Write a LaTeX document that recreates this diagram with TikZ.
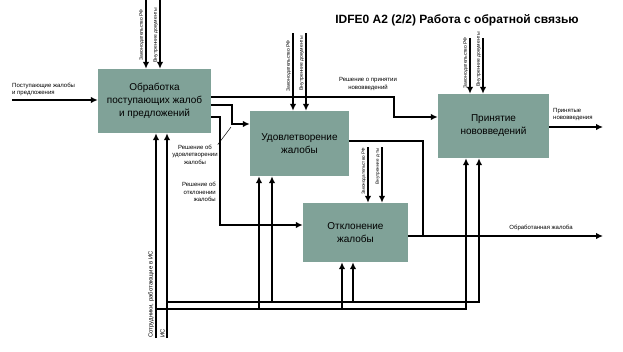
\documentclass[tikz,border=0pt]{standalone}
\usepackage{fontspec}
\setmainfont{Liberation Sans}
\usetikzlibrary{positioning, arrows.meta, calc}
\definecolor{boxgreen}{RGB}{128,162,152}
\tikzset{
  funcbox/.style={rectangle, fill=boxgreen, align=center, inner sep=2pt, font=\fontsize{10}{13}\selectfont},
  arr/.style={line width=1.5pt, -{Latex[length=7pt,width=6.5pt]}},
  flow/.style={line width=1.5pt},
  lbl/.style={inner sep=0pt, align=center, font=\fontsize{6}{7.5}\selectfont},
  ctrllbl/.style={inner sep=0pt, rotate=90, anchor=south east, font=\fontsize{5}{6}\selectfont},
  leader/.style={line width=0.5pt}
}

\begin{document}
\begin{tikzpicture}[x=1pt, y=-1pt]
        \useasboundingbox (0,0) rectangle (623,351);

        % Заголовок
        \node (zagolovok) [font=\bfseries\fontsize{12}{14}\selectfont] at (457,20) {IDFE0 A2 (2/2) Работа с обратной связью};

        % Функциональные блоки
        \node (obr) [funcbox, minimum width=113pt, minimum height=64pt] at (154.5,101) {Обработка\\поступающих жалоб\\и предложений};
        \node (udv) [funcbox, minimum width=99pt, minimum height=65pt] at (299.5,143.5) {Удовлетворение\\жалобы};
        \node (otk) [funcbox, minimum width=105pt, minimum height=59pt] at (355.5,232.5) {Отклонение\\жалобы};
        \node (prn) [funcbox, minimum width=111pt, minimum height=64pt] at (493.5,126) {Принятие\\нововведений};

        % Вход
        \coordinate (vhod) at (12,100);
        \draw [arr] (vhod) -- (vhod -| obr.west);
        \node (vhodlbl) [lbl, align=left, anchor=south west] at (12,96) {Поступающие жалобы\\и предложения};

        % Управление
        \foreach \x/\y/\bx in {146/0/obr, 160/0/obr, 293/33/udv, 306/33/udv, 368/147/otk, 382/147/otk, 470/38/prn, 483/38/prn}
            \draw [arr] (\x,\y) -- (\x,\y |- \bx.north);
        \foreach \x/\y/\t in {146/9/Законодательство РФ, 160/8/Внутренние документы, 293/40/Законодательство РФ, 306/36/Внутренние документы, 470/37/Законодательство РФ, 483/32/Внутренние документы}
            \node [ctrllbl] at (\x-2,\y) {\t};
        \node (zak3) [ctrllbl, font=\fontsize{4.6}{5}\selectfont] at (366,148) {Законодательство РФ};
        \node (vnu3) [ctrllbl, font=\fontsize{4.6}{5}\selectfont] at (380,148) {Внутренние д-ты};

        % Выходы блока обработки
        \draw [arr] ([yshift=4pt]obr.east) -- ++(183,0) |- ([yshift=9pt]prn.west);
        \node (reshprn) [lbl] at (368,84) {Решение о принятии\\нововведений};
        \draw [arr] ([yshift=-4pt]obr.east) -- ++(21,0) |- ([yshift=19.5pt]udv.west);
        \node (reshudv) [lbl] at (195,154.5) {Решение об\\удовлетворении\\жалобы};
        \coordinate (vynoska) at (231,127);
        \draw [leader] (reshudv.north east) -- (vynoska);
        \draw [arr] ([yshift=-16pt]obr.east) -- ++(9,0) |- ([yshift=7.5pt]otk.west);
        \node (reshotk) [lbl, align=right, anchor=east] at (216,192) {Решение об\\отклонении\\жалобы};

        % Механизмы
        \coordinate (sotr) at (156,338);
        \coordinate (is) at (167,338);
        \draw [arr] (sotr) -- (sotr |- obr.south);
        \draw [arr] (is) -- (is |- obr.south);
        \draw [arr] (156,309) -| (466,0 |- prn.south);
        \draw [arr] (167,302) -| (479,0 |- prn.south);
        \foreach \xa/\xb/\bx in {259/272/udv, 342/353/otk} {
            \draw [arr] (\xa,309) -- (\xa,0 |- \bx.south);
            \draw [arr] (\xb,302) -- (\xb,0 |- \bx.south);
        }
        \node (sotrlbl) [inner sep=0pt, rotate=90, anchor=south west, font=\fontsize{6}{7}\selectfont] at (154,338) {Сотрудники, работающие в ИС};
        \node (islbl) [inner sep=0pt, rotate=90, anchor=south west, font=\fontsize{6}{7}\selectfont] at (165,338) {ИС};

        % Выходы
        \coordinate (vyhod) at (603,236);
        \coordinate (sliyanie) at (423,236);
        \draw [arr] ([yshift=-3.5pt]otk.east) -- (vyhod);
        \draw [flow] ([yshift=2.5pt]udv.east) -| (sliyanie);
        \node (obrlbl) [lbl] at (541,228) {Обработанная жалоба};
        \coordinate (vyhprn) at (603,127);
        \draw [arr] (prn.east |- vyhprn) -- (vyhprn);
        \node (prnlbl) [lbl, align=left, anchor=west] at (553,114.5) {Принятые\\нововведения};
    \end{tikzpicture}
\end{document}
